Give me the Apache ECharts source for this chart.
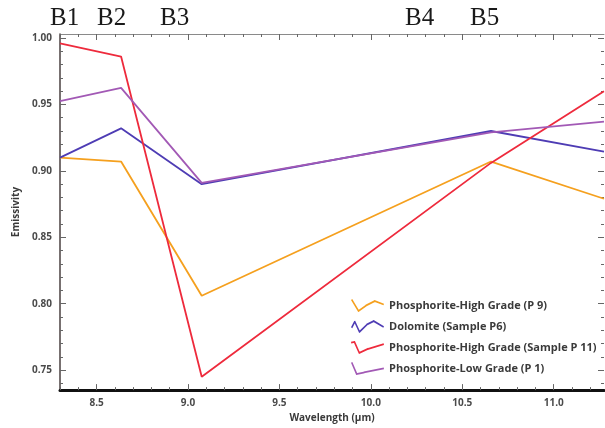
<!DOCTYPE html>
<html>
<head>
<meta charset="utf-8">
<script src="https://cdn.jsdelivr.net/npm/echarts@6/dist/echarts.min.js"></script>
<style>
html,body{margin:0;padding:0;background:#fff;}
#chart{width:605px;height:428px;}
</style>
</head>
<body>
<div id="chart"></div>
<script>
// ---- data ----
const wavelengths = [8.3, 8.634, 9.075, 10.657, 11.275];
const seriesNames = [
  'Phosphorite-High Grade (P 9)',
  'Dolomite (Sample P6)',
  'Phosphorite-High Grade (Sample P 11)',
  'Phosphorite-Low Grade (P 1)'
];
const p9Values  = [0.910, 0.907, 0.806, 0.907, 0.879];
const p6Values  = [0.910, 0.932, 0.890, 0.930, 0.9145];
const p11Values = [0.996, 0.986, 0.745, 0.906, 0.960];
const p1Values  = [0.9525, 0.9625, 0.891, 0.929, 0.937];
const bandLabels = ['B1', 'B2', 'B3', 'B4', 'B5'];
const xTickValues = [8.5, 9.0, 9.5, 10.0, 10.5, 11.0];
const yTickValues = [0.75, 0.80, 0.85, 0.90, 0.95, 1.00];

// ---- layout / style ----
const X_MIN = 8.3, X_MAX = 11.275, Y_MIN = 0.735, Y_MAX = 1.003;
const colors = ['#F5A01E', '#4E3CB4', '#EE2A3C', '#A259B5'];
const bandLabelX = [50, 97, 160, 405, 470];

function minorTicks(lo, hi, step, majors) {
  const out = [];
  const n = Math.round((hi - lo) / step);
  for (let i = 0; i <= n; i++) {
    const v = +(lo + i * step).toFixed(4);
    if (!majors.some(m => Math.abs(m - v) < 1e-6)) out.push(v);
  }
  return out;
}
const xMinor = minorTicks(8.3, 11.2, 0.1, xTickValues);
const yMinor = minorTicks(0.74, 1.00, 0.01, yTickValues);

// legend glyph: a stroked polyline drawn as union of thin quads
function iconPath(pts, w) {
  const h = w / 2;
  const f = v => v.toFixed(2);
  let d = 'path://';
  for (let i = 0; i < pts.length - 1; i++) {
    const [x1, y1] = pts[i], [x2, y2] = pts[i + 1];
    const len = Math.hypot(x2 - x1, y2 - y1);
    const nx = -(y2 - y1) / len * h, ny = (x2 - x1) / len * h;
    const ex = (x2 - x1) / len * h * 0.6, ey = (y2 - y1) / len * h * 0.6;
    d += 'M' + f(x1 + nx - ex) + ' ' + f(y1 + ny - ey) +
         ' L' + f(x2 + nx + ex) + ' ' + f(y2 + ny + ey) +
         ' L' + f(x2 - nx + ex) + ' ' + f(y2 - ny + ey) +
         ' L' + f(x1 - nx - ex) + ' ' + f(y1 - ny - ey) + ' Z ';
  }
  return d.trim();
}
const icons = [
  iconPath([[0,1],[7,11],[15,6],[24,2],[33,5]], 1.6),
  iconPath([[0,7],[3,2],[8,11],[16,4.5],[23,1.5],[33,6.5]], 1.6),
  iconPath([[0,2],[3,1.5],[8,11],[17,7.5],[33,3.5]], 1.6),
  iconPath([[0,1],[5,11],[13,9.5],[33,6]], 1.6)
];

const tickFont = {fontFamily: 'Open Sans', fontWeight: 'bold', fontSize: 10, color: '#4a4a4a'};

function xAxisDef(pos, major, extra) {
  return Object.assign({
    type: 'value', position: pos, min: X_MIN, max: X_MAX,
    splitLine: {show: false},
    axisLine: {show: false},
    axisTick: {show: true, inside: true, length: major ? 6 : 3,
      customValues: major ? xTickValues : xMinor,
      lineStyle: {color: '#666', width: 1}},
    axisLabel: {show: false}
  }, extra || {});
}
function yAxisDef(pos, major, extra) {
  return Object.assign({
    type: 'value', position: pos, min: Y_MIN, max: Y_MAX,
    splitLine: {show: false},
    axisLine: {show: false},
    axisTick: {show: true, inside: true, length: major ? 6 : 3,
      customValues: major ? yTickValues : yMinor,
      lineStyle: {color: '#666', width: 1}},
    axisLabel: {show: false}
  }, extra || {});
}

const seriesData = [p9Values, p6Values, p11Values, p1Values];

const option = {
  animation: false,
  backgroundColor: '#ffffff',
  grid: {left: 60, right: 1, top: 34, bottom: 36, containLabel: false},
  legend: {
    orient: 'vertical', left: 346, top: 294,
    itemWidth: 33, itemHeight: 13, itemGap: 8,
    symbolKeepAspect: false,
    itemStyle: {borderWidth: 0},
    textStyle: {fontFamily: 'Open Sans', fontWeight: 'bold', fontSize: 11, color: '#3a3a3a'},
    data: seriesNames.map((n, i) => ({name: n, icon: icons[i]}))
  },
  xAxis: [
    xAxisDef('bottom', true, {
      axisLine: {show: true, lineStyle: {color: '#111', width: 3}},
      axisLabel: Object.assign({show: true, margin: 8, customValues: xTickValues,
        formatter: v => v.toFixed(1)}, tickFont),
      name: 'Wavelength (\u03bcm)', nameLocation: 'middle', nameGap: 20,
      nameTextStyle: {fontFamily: 'Open Sans', fontWeight: 'bold', fontSize: 10, color: '#3a3a3a'}
    }),
    xAxisDef('bottom', false),
    xAxisDef('top', true, {axisLine: {show: true, lineStyle: {color: '#8a8a8a', width: 1}}}),
    xAxisDef('top', false)
  ],
  yAxis: [
    yAxisDef('left', true, {
      axisLine: {show: true, lineStyle: {color: '#4a4040', width: 1.5}},
      axisLabel: Object.assign({show: true, margin: 8, customValues: yTickValues,
        formatter: v => v.toFixed(2)}, tickFont),
      name: 'Emissivity', nameLocation: 'middle', nameGap: 38,
      nameTextStyle: {fontFamily: 'Open Sans', fontWeight: 'bold', fontSize: 10, color: '#3a3a3a'}
    }),
    yAxisDef('left', false),
    yAxisDef('right', true),
    yAxisDef('right', false)
  ],
  series: seriesNames.map((n, i) => ({
    name: n, type: 'line', xAxisIndex: 0, yAxisIndex: 0,
    data: wavelengths.map((w, j) => [w, seriesData[i][j]]),
    showSymbol: false, symbol: 'none', clip: true,
    color: colors[i],
    lineStyle: {color: colors[i], width: 1.8},
    z: 3
  })),
  graphic: bandLabels.map((b, i) => ({
    type: 'text', left: bandLabelX[i], top: 6,
    style: {text: b, fontFamily: 'Liberation Serif', fontSize: 25, fill: '#1a1a1a'}
  }))
};

const chart = echarts.init(document.getElementById('chart'), null, {renderer: 'canvas'});
chart.setOption(option);
</script>
</body>
</html>
